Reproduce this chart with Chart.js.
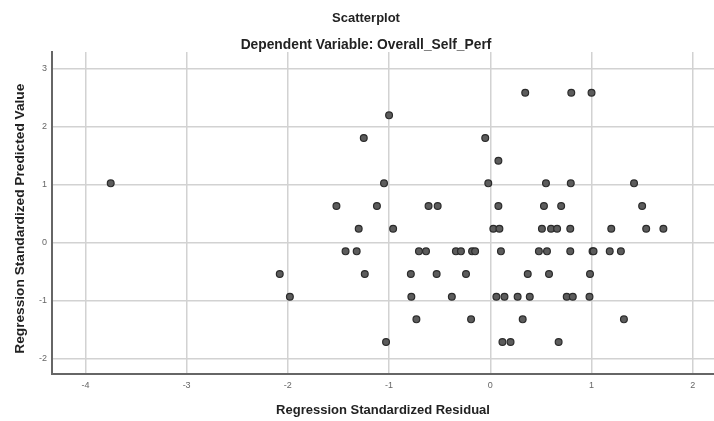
<!DOCTYPE html>
<html>
<head>
<meta charset="utf-8">
<title>Scatterplot</title>
<script src="https://cdn.jsdelivr.net/npm/chart.js@4.4.1/dist/chart.umd.min.js"></script>
<style>
  html, body { margin: 0; padding: 0; background: #fff; overflow: hidden; }
  /* a bit wider than the window: the original plot runs off the right edge */
  .wrap { position: relative; width: 732px; height: 421px; }
</style>
</head>
<body>
<div class="wrap"><canvas id="scatter"></canvas></div>
<script>
// ─── Data ─────────────────────────────────────────────────────────
// predicted values come in discrete levels; residuals listed per level
const predicted = [2.58, 2.19, 1.80, 1.41, 1.02, 0.63, 0.24, -0.15, -0.54, -0.93, -1.32, -1.71];
const residuals = [
  [0.345, 0.80, 1.00],
  [-1.00],
  [-1.25, -0.05],
  [0.08],
  [-3.75, -1.05, -0.02, 0.55, 0.795, 1.42],
  [-1.52, -1.12, -0.61, -0.52, 0.08, 0.53, 0.70, 1.50],
  [-1.30, -0.96, 0.03, 0.09, 0.51, 0.60, 0.66, 0.79, 1.195, 1.54, 1.71],
  [-1.43, -1.32, -0.705, -0.635, -0.34, -0.29, -0.18, -0.15, 0.105, 0.48, 0.56, 0.79, 1.01, 1.02, 1.18, 1.29],
  [-2.08, -1.24, -0.785, -0.53, -0.24, 0.37, 0.58, 0.985],
  [-1.98, -0.78, -0.38, 0.06, 0.14, 0.27, 0.39, 0.755, 0.815, 0.98],
  [-0.73, -0.19, 0.32, 1.32],
  [-1.03, 0.12, 0.20, 0.675]
];
const xTicks = [-4, -3, -2, -1, 0, 1, 2];
const yTicks = [-2, -1, 0, 1, 2, 3];

const points = predicted.flatMap((p, i) => residuals[i].map(r => ({ x: r, y: p })));

const FONT = 'Arial, "Liberation Sans", sans-serif';
const gridStyle = { color: '#d2d2d2', lineWidth: 1.5, drawTicks: false };
const borderStyle = { display: true, color: '#666', width: 2 };
const tickStyle = { color: '#666', font: { family: FONT, size: 9 } };

new Chart(document.getElementById('scatter'), {
  type: 'scatter',
  data: {
    datasets: [{
      data: points,
      backgroundColor: '#5c5c5c',
      borderColor: '#2b2b2b',
      borderWidth: 1.2,
      pointRadius: 3.4
    }]
  },
  options: {
    responsive: true,
    maintainAspectRatio: false,
    animation: false,
    layout: { padding: 0 },
    plugins: {
      legend: { display: false },
      tooltip: { enabled: false },
      title: {
        display: true,
        text: 'Scatterplot',
        color: '#222',
        font: { family: FONT, size: 13, weight: 'bold', lineHeight: 1 },
        padding: { top: 12, bottom: 0 }
      },
      subtitle: {
        display: true,
        text: 'Dependent Variable: Overall_Self_Perf',
        color: '#222',
        font: { family: FONT, size: 13.8, weight: 'bold', lineHeight: 1 },
        padding: { top: 13, bottom: 0.2 }
      }
    },
    scales: {
      x: {
        min: -4.33,
        max: 2.21,
        afterBuildTicks: s => { s.ticks = xTicks.map(v => ({ value: v })); },
        afterFit: s => { s.height = 47; },
        grid: gridStyle,
        border: borderStyle,
        ticks: { ...tickStyle, padding: 6, maxRotation: 0, callback: v => String(v) },
        title: {
          display: true,
          text: 'Regression Standardized Residual',
          color: '#222',
          font: { family: FONT, size: 13, weight: 'bold' },
          padding: { top: 0, bottom: 3.2 }
        }
      },
      y: {
        min: -2.26,
        max: 3.28,
        afterBuildTicks: s => { s.ticks = yTicks.map(v => ({ value: v })); },
        afterFit: s => { s.width = 52; },
        grid: gridStyle,
        border: borderStyle,
        ticks: { ...tickStyle, padding: 5, callback: v => String(v) },
        title: {
          display: true,
          text: 'Regression Standardized Predicted Value   ',
          color: '#222',
          font: { family: FONT, size: 13.7, weight: 'bold' },
          padding: { top: 12, bottom: 0 }
        }
      },
      // empty strip on the right, off-screen, so the plot ends at the window edge
      yRight: {
        position: 'right',
        grid: { display: false },
        border: { display: false },
        ticks: { display: false },
        afterFit: s => { s.width = 18; }
      }
    }
  }
});
</script>
</body>
</html>
